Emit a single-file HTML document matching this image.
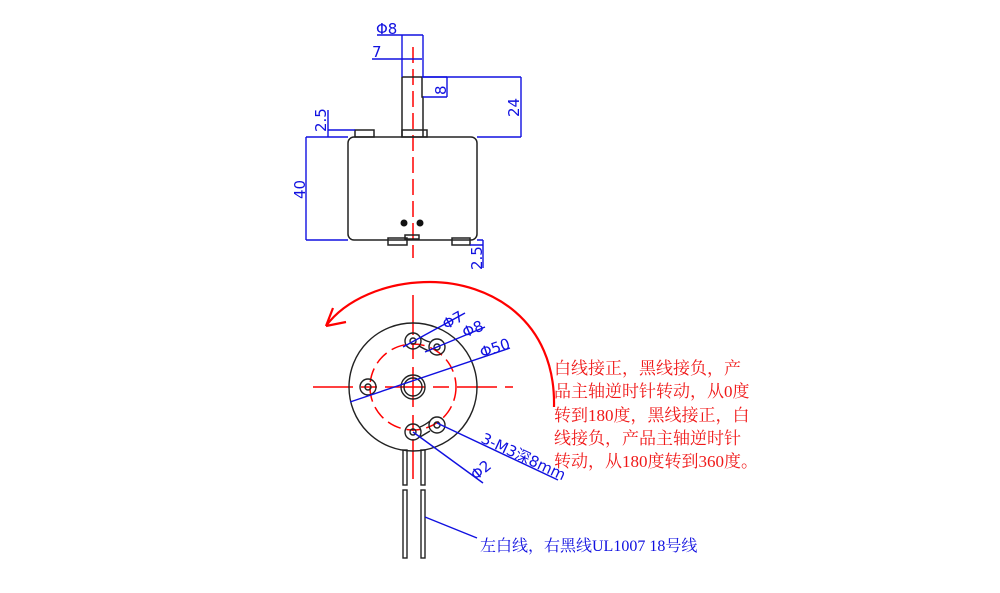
<!DOCTYPE html>
<html><head><meta charset="utf-8"><style>
html,body{margin:0;padding:0;background:#fff;}
svg{display:block;}
.r{font-family:"Liberation Serif","Noto Serif CJK SC",serif;font-size:17px;fill:#f01818;}
.b{font-family:"DejaVu Sans","Liberation Sans",sans-serif;font-size:15px;fill:#1010e0;}
</style></head><body>
<svg width="1000" height="593" viewBox="0 0 1000 593" xmlns="http://www.w3.org/2000/svg">
<line x1="413" y1="47" x2="413" y2="258" stroke="#f00" stroke-width="1.5" stroke-dasharray="16,6"/>
<g fill="none" stroke="#222" stroke-width="1.5">
<path d="M402 77 H422 V97 H423 V137 M402 77 V137"/>
<rect x="402" y="130" width="25" height="7"/>
<rect x="355" y="130" width="19" height="7"/>
<rect x="348" y="137" width="129" height="103" rx="6"/>
<rect x="388" y="238" width="19" height="7"/>
<rect x="405" y="235" width="14" height="4"/>
<rect x="452" y="238" width="18" height="7"/>
</g>
<circle cx="404" cy="223" r="3.5" fill="#111"/><circle cx="420" cy="223" r="3.5" fill="#111"/>
<g stroke="#1010e0" stroke-width="1.4" fill="none">
<path d="M377 35 H423 M402 35 V77 M423 35 V77"/>
<path d="M372 59 H422"/>
<path d="M422 77 H447 M423 97 H447 M447 77 V97"/>
<path d="M423 77 H521 M477 137 H521 M521 77 V137"/>
<path d="M306 137 H348 M306 240 H348 M306 137 V240"/>
<path d="M328 130 H355 M328 110 V137"/>
<path d="M470 245 H483 M477 240 H483 M483 240 V268"/>
</g>
<text class="b" x="376" y="34">Φ8</text>
<text class="b" x="372" y="57">7</text>
<text class="b" transform="translate(446,95) rotate(-90)">8</text>
<text class="b" transform="translate(519,117) rotate(-90)">24</text>
<text class="b" transform="translate(305,199) rotate(-90)">40</text>
<text class="b" transform="translate(326,132) rotate(-90)">2.5</text>
<text class="b" transform="translate(482,270) rotate(-90)">2.5</text>
<g stroke="#f00" stroke-width="1.5" fill="none">
<line x1="313" y1="387" x2="513" y2="387" stroke-dasharray="40,8,16,8"/>
<line x1="413" y1="295" x2="413" y2="487" stroke-dasharray="40,8,16,8"/>
<circle cx="413" cy="387" r="43" stroke-dasharray="14,6"/>
</g>
<g stroke="#f00" stroke-width="2.2" fill="none">
<path d="M554 407 C556 320 490 282 430 282 C385 282 345 300 326 326"/>
<path d="M326 326 L346 322 M326 326 L333 308"/>
</g>
<g fill="none" stroke="#222" stroke-width="1.4">
<circle cx="413" cy="387" r="64"/>
<circle cx="413" cy="387" r="12"/><circle cx="413" cy="387" r="9"/>
<circle cx="413" cy="341" r="8"/><circle cx="413" cy="341" r="3"/>
<circle cx="437" cy="347" r="8"/><circle cx="437" cy="347" r="3"/>
<path d="M420 337 Q425 341 430 342 M419 346 Q424 349 429 351"/>
<circle cx="368" cy="387" r="8"/><circle cx="368" cy="387" r="3"/>
<circle cx="413" cy="432" r="8"/><circle cx="413" cy="432" r="3"/>
<circle cx="437" cy="425" r="8"/><circle cx="437" cy="425" r="3"/>
<path d="M420 427 Q425 425 430 421 M420 437 Q425 434 430 431"/>
<rect x="403" y="450" width="4" height="35"/><rect x="421" y="450" width="4" height="35"/>
<rect x="403" y="490" width="4" height="68"/><rect x="421" y="490" width="4" height="68"/>
</g>
<g stroke="#1010e0" stroke-width="1.4" fill="none">
<path d="M403 347 L465 313"/>
<path d="M425 352 L485 327"/>
<path d="M350 402 L510 348"/>
<path d="M437 423 L558 480"/>
<path d="M413 432 L483 483"/>
<path d="M425 517 L477 538"/>
</g>
<text class="b" transform="translate(446,330) rotate(-29)">Φ7</text>
<text class="b" transform="translate(465,338) rotate(-23)">Φ8</text>
<text class="b" transform="translate(482,358) rotate(-19)">Φ50</text>
<text class="b" transform="translate(480,442) rotate(25)">3-M3深8mm</text>
<text class="b" transform="translate(476,481) rotate(-40)">Φ2</text>
<text class="r" x="554" y="374">白线接正，黑线接负，产</text>
<text class="r" x="554" y="397">品主轴逆时针转动，从0度</text>
<text class="r" x="554" y="421">转到180度，黑线接正，白</text>
<text class="r" x="554" y="444">线接负，产品主轴逆时针</text>
<text class="r" x="554" y="467">转动，从180度转到360度。</text>
<text class="r" x="480" y="551" style="fill:#1010e0;font-size:16px">左白线，右黑线UL1007 18号线</text>
</svg>
</body></html>
